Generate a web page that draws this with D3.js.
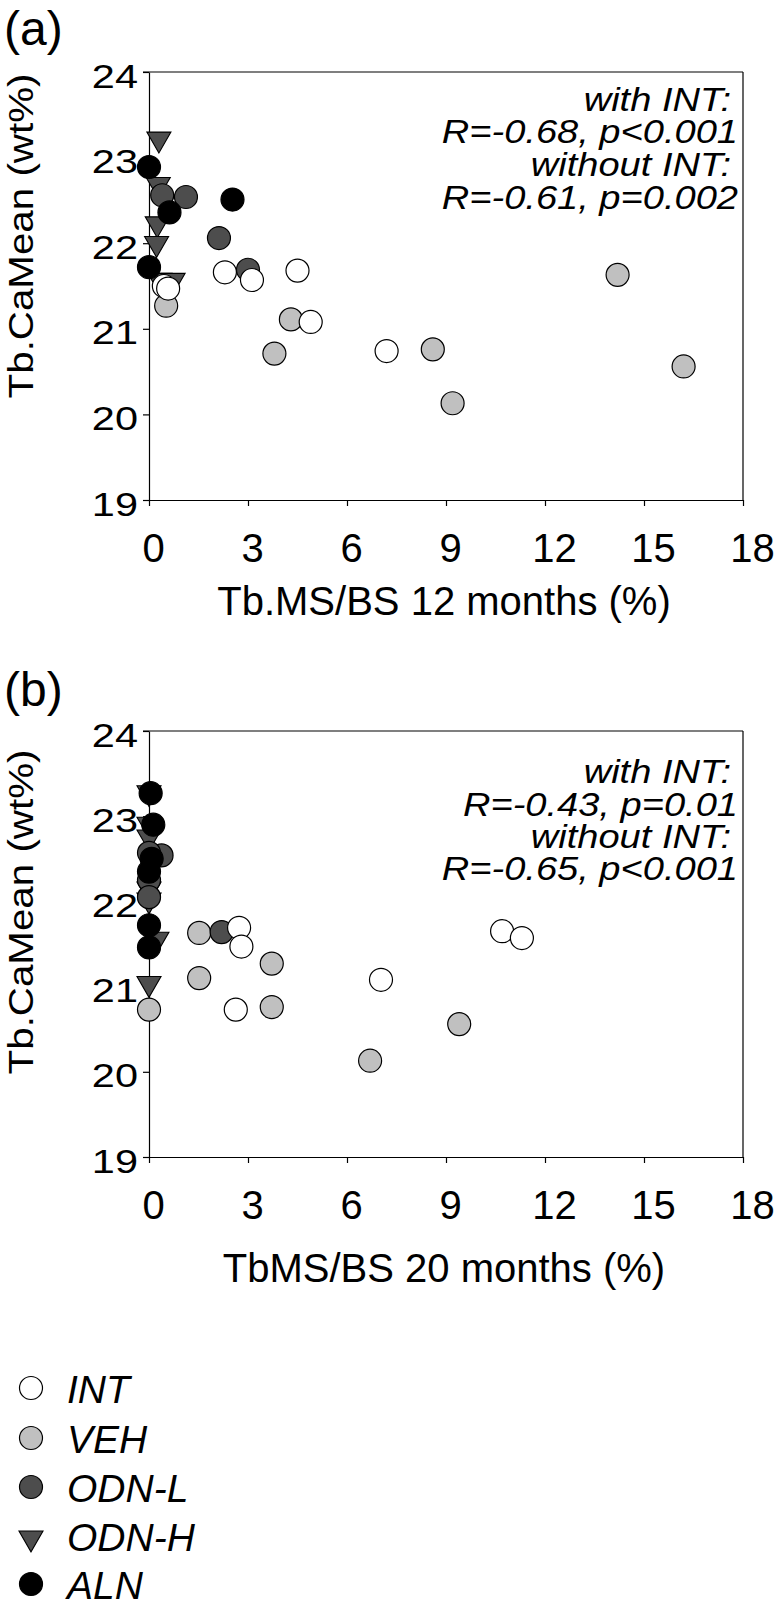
<!DOCTYPE html>
<html><head><meta charset="utf-8">
<script src="https://cdn.jsdelivr.net/npm/d3@7"></script>
<style>
body{margin:0;background:#fff}
svg{display:block}
text{font-family:"Liberation Sans",Arial,Helvetica,sans-serif;fill:#000}
</style>
</head><body>
<svg id="c" width="775" height="1607"></svg>
<script>
// ---------------- data ----------------
const groups = ["INT", "VEH", "ODN-L", "ODN-H", "ALN"];
const groupFill = {"INT":"#ffffff","VEH":"#c0c0c0","ODN-L":"#4d4d4d","ODN-H":"#4d4d4d","ALN":"#000000"};
const groupShape = {"INT":"circle","VEH":"circle","ODN-L":"circle","ODN-H":"triangle","ALN":"circle"};
const drawOrder = ["VEH", "ODN-H", "ODN-L", "ALN", "INT"];

const xTicks = [0, 3, 6, 9, 12, 15, 18];
const yTicks = [19, 20, 21, 22, 23, 24];

// Panel (a): Tb.MS/BS 12 months (%) vs Tb.CaMean (wt%)
const a_INT  = [[2.3,21.66],[3.12,21.57],[4.5,21.68],[0.45,21.5],[0.58,21.47],[4.9,21.08],[7.2,20.74]];
const a_VEH  = [[0.52,21.27],[4.3,21.11],[3.8,20.71],[14.2,21.63],[8.6,20.76],[9.2,20.13],[16.2,20.56]];
const a_ODNL = [[0.4,22.56],[1.12,22.54],[2.12,22.06],[3.0,21.69]];
const a_ODNH = [[0.3,23.24],[0.28,22.71],[0.25,22.25],[0.23,22.02],[0.33,21.59],[0.73,21.59]];
const a_ALN  = [[0.0,22.89],[0.62,22.36],[2.53,22.51],[0.0,21.72]];

// Panel (b): TbMS/BS 20 months (%) vs Tb.CaMean (wt%)
const b_INT  = [[2.73,21.69],[2.8,21.47],[7.03,21.08],[2.63,20.73],[10.7,21.65],[11.3,21.57]];
const b_VEH  = [[1.52,21.63],[3.72,21.27],[1.52,21.1],[0.0,20.73],[3.72,20.76],[9.4,20.56],[6.7,20.13]];
const b_ODNL = [[2.2,21.64],[0.38,22.54],[0.0,22.57],[0.0,22.25],[0.0,22.05]];
const b_ODNH = [[0.0,23.3],[0.0,22.93],[0.0,22.78],[0.0,22.17],[0.0,22.04],[0.24,21.58],[0.0,21.06]];
const b_ALN  = [[0.05,23.27],[0.13,22.9],[0.08,22.5],[0.0,22.35],[0.0,21.72],[0.0,21.46]];

const annA = ["with INT:", "R=-0.68, p<0.001", "without INT:", "R=-0.61, p=0.002"];
const annB = ["with INT:", "R=-0.43, p=0.01", "without INT:", "R=-0.65, p<0.001"];

const yTitle = "Tb.CaMean (wt%)";
const xTitleA = "Tb.MS/BS 12 months (%)";
const xTitleB = "TbMS/BS 20 months (%)";

// ---------------- drawing ----------------
const svg = d3.select("#c");
const R = 11.5;
const triPath = d3.symbol(d3.symbolTriangle, 250)();

const panels = [
  {label:"(a)", labelY:45, top:72, bottom:500, xTitle:xTitleA, xTitleY:615, yTitleC:236,
   ann:annA, annY:[111,143,176,209],
   data:{"INT":a_INT,"VEH":a_VEH,"ODN-L":a_ODNL,"ODN-H":a_ODNH,"ALN":a_ALN}},
  {label:"(b)", labelY:706, top:731, bottom:1157, xTitle:xTitleB, xTitleY:1282, yTitleC:912,
   ann:annB, annY:[783,816,848,880],
   data:{"INT":b_INT,"VEH":b_VEH,"ODN-L":b_ODNL,"ODN-H":b_ODNH,"ALN":b_ALN}}
];

function drawMarker(g, shape, fill, cx, cy) {
  if (shape === "triangle") {
    g.append("path").attr("d", triPath)
      .attr("transform", `translate(${cx},${cy + 2}) rotate(180)`)
      .attr("fill", fill).attr("stroke", "#000").attr("stroke-width", 1.1);
  } else {
    g.append("circle").attr("cx", cx).attr("cy", cy).attr("r", R)
      .attr("fill", fill).attr("stroke", "#000").attr("stroke-width", 1.2);
  }
}

panels.forEach(p => {
  const x = d3.scaleLinear().domain([0, 18]).range([149, 743]);
  const y = d3.scaleLinear().domain([19, 24]).range([p.bottom, p.top]);
  const g = svg.append("g");

  // panel label
  g.append("text").attr("x", 4).attr("y", p.labelY).attr("font-size", 48).text(p.label);

  // frame (top & right)
  g.append("line").attr("x1", 143).attr("x2", x(18)).attr("y1", y(24)).attr("y2", y(24))
    .attr("stroke", "#000").attr("stroke-width", 1.2);
  g.append("line").attr("x1", x(18)).attr("x2", x(18)).attr("y1", y(24)).attr("y2", y(19))
    .attr("stroke", "#000").attr("stroke-width", 1.2);

  // y axis
  const ya = g.append("g").attr("transform", `translate(${x(0)},0)`)
    .call(d3.axisLeft(y).tickValues(yTicks).tickSize(6).tickSizeOuter(0).tickFormat(d3.format("d")));
  ya.selectAll("path.domain").attr("stroke", "#000").attr("stroke-width", 1.2);
  ya.selectAll(".tick line").attr("stroke", "#000").attr("stroke-width", 1.2);
  ya.selectAll(".tick text").attr("x", null).attr("dy", null)
    .attr("font-size", 34).attr("font-family", '"Liberation Sans",Arial,sans-serif')
    .attr("text-anchor", "end").attr("fill", "#000")
    .attr("transform", "translate(-11,15) scale(1.22,1)");

  // x axis
  const xa = g.append("g").attr("transform", `translate(0,${y(19)})`)
    .call(d3.axisBottom(x).tickValues(xTicks).tickSize(6).tickSizeOuter(0).tickFormat(d3.format("d")));
  xa.selectAll("path.domain").attr("stroke", "#000").attr("stroke-width", 1.2);
  xa.selectAll(".tick line").attr("stroke", "#000").attr("stroke-width", 1.2);
  xa.selectAll(".tick text").attr("y", null).attr("dy", null)
    .attr("font-size", 40).attr("font-family", '"Liberation Sans",Arial,sans-serif')
    .attr("text-anchor", "middle").attr("fill", "#000")
    .attr("transform", d => `translate(${String(d).length > 1 ? 9 : 4},62)`);

  // axis titles
  g.append("text").attr("font-size", 40).attr("text-anchor", "middle")
    .attr("x", 444).attr("y", p.xTitleY).text(p.xTitle);
  g.append("text").attr("font-size", 36).attr("text-anchor", "middle")
    .attr("transform", `translate(33,${p.yTitleC}) rotate(-90) scale(1.12,1)`).text(yTitle);

  // annotation
  p.ann.forEach((t, i) => {
    g.append("text").attr("font-size", 34).attr("font-style", "italic").attr("text-anchor", "end")
      .attr("transform", `translate(${i % 2 === 0 ? 731 : 738},${p.annY[i]}) scale(1.12,1)`).text(t);
  });

  // markers
  const mg = g.append("g");
  drawOrder.forEach(k => {
    p.data[k].forEach(d => drawMarker(mg, groupShape[k], groupFill[k], x(d[0]), y(d[1])));
  });
});

// legend
const legY = [1388, 1438, 1487, 1536, 1584];
const lg = svg.append("g");
groups.forEach((k, i) => {
  drawMarker(lg, groupShape[k], groupFill[k], 31, legY[i]);
  lg.append("text").attr("x", 67).attr("y", legY[i] + 15).attr("font-size", 39)
    .attr("font-style", "italic").text(k);
});
</script>
</body></html>
